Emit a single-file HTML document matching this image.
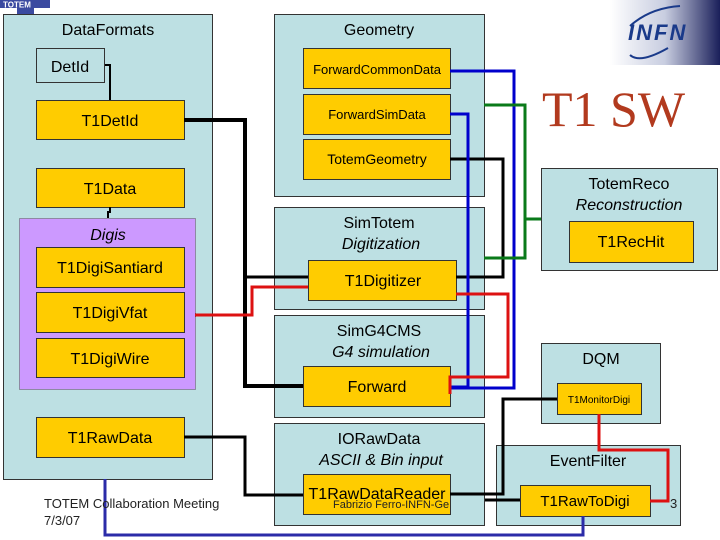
<!DOCTYPE html>
<html><head><meta charset="utf-8"><style>
html,body{margin:0;padding:0;background:#fff;}
svg{display:block;font-family:"Liberation Sans",sans-serif;}
</style></head><body>
<svg width="720" height="540" viewBox="0 0 720 540" xmlns="http://www.w3.org/2000/svg">
<defs>
<linearGradient id="g" x1="0" x2="1"><stop offset="0" stop-color="#fff"/><stop offset="0.5" stop-color="#c8cde0"/><stop offset="1" stop-color="#1a1f5a"/></linearGradient>
</defs>
<rect x="610" y="0" width="110" height="65" fill="url(#g)"/>
<text x="628" y="40" font-size="22" font-weight="bold" font-style="italic" fill="#1a3a8a" letter-spacing="2">INFN</text>
<path d="M630 26 Q650 8 680 6" stroke="#1a3a8a" stroke-width="2" fill="none"/>
<path d="M668 48 Q640 64 630 55" stroke="#1a3a8a" stroke-width="2" fill="none"/>
<rect x="0" y="0" width="50" height="8" fill="#3b4aa0"/>
<rect x="17" y="8" width="17" height="6" fill="#3b4aa0"/>
<text x="3" y="7.5" font-size="8" font-weight="bold" fill="#fff">TOTEM</text>

<g fill="#bde0e3" stroke="#333" stroke-width="1">
<rect x="3.5" y="14.5" width="209" height="465"/>
<rect x="274.5" y="14.5" width="210" height="182"/>
<rect x="274.5" y="207.5" width="210" height="102"/>
<rect x="274.5" y="315.5" width="210" height="102"/>
<rect x="274.5" y="423.5" width="210" height="102"/>
<rect x="541.5" y="168.5" width="176" height="102"/>
<rect x="541.5" y="343.5" width="119" height="80"/>
<rect x="496.5" y="445.5" width="184" height="80"/>
</g>
<rect x="19.5" y="218.5" width="176" height="171" fill="#cc99ff" stroke="#555" stroke-dasharray="1,1"/>
<rect x="36.5" y="48.5" width="68" height="34" fill="#bde0e3" stroke="#333"/>
<g fill="#ffcc00" stroke="#333">
<rect x="36.5" y="100.5" width="148" height="39"/>
<rect x="36.5" y="168.5" width="148" height="39"/>
<rect x="36.5" y="247.5" width="148" height="40"/>
<rect x="36.5" y="292.5" width="148" height="40"/>
<rect x="36.5" y="338.5" width="148" height="39"/>
<rect x="36.5" y="417.5" width="148" height="40"/>
<rect x="303.5" y="48.5" width="147" height="40"/>
<rect x="303.5" y="94.5" width="147" height="40"/>
<rect x="303.5" y="139.5" width="147" height="40"/>
<rect x="308.5" y="260.5" width="148" height="40"/>
<rect x="303.5" y="366.5" width="147" height="40"/>
<rect x="303.5" y="474.5" width="147" height="40"/>
<rect x="569.5" y="221.5" width="124" height="41"/>
<rect x="557.5" y="383.5" width="84" height="31"/>
<rect x="520.5" y="485.5" width="130" height="31"/>
</g>

<g fill="none" stroke-width="3" stroke-linejoin="miter">
<polyline stroke="#000" stroke-width="4" points="184,120 245,120 245,386 303,386"/>
<polyline stroke="#000" points="245,277 308,277"/>
<polyline stroke="#000" stroke-width="2" points="105,65 110,65 110,100"/>
<polyline stroke="#000" stroke-width="2" points="110,207 110,212 108,212 108,218"/>
<polyline stroke="#000" points="450,159 503,159 503,277 456,277"/>
<polyline stroke="#0000cc" points="450,71 514,71 514,388 450,388"/>
<polyline stroke="#0000cc" points="450,114 468,114 468,387 450,387"/>
<polyline stroke="#0a7a1a" points="484,105 525,105 525,258 484,258"/>
<polyline stroke="#0a7a1a" points="525,219 541,219"/>
<polyline stroke="#dd1111" points="456,294 508,294 508,377 450,377 450,394"/>
<polyline stroke="#dd1111" points="195,315 252,315 252,287 308,287"/>
<polyline stroke="#000" points="184,437 245,437 245,495 303,495"/>
<polyline stroke="#000" points="450,494 503,494 503,399 557,399"/>
<polyline stroke="#000" points="485,500 520,500"/>
<polyline stroke="#2b2ba8" points="105,479 105,535 583,535 583,516"/>
<polyline stroke="#dd1111" points="599,414 599,450 668,450 668,501 650,501"/>
</g>

<g fill="#000" font-size="16" text-anchor="middle">
<text x="108" y="35">DataFormats</text>
<text x="70" y="72">DetId</text>
<text x="110" y="126">T1DetId</text>
<text x="110" y="194">T1Data</text>
<text x="108" y="240" font-style="italic">Digis</text>
<text x="110" y="273">T1DigiSantiard</text>
<text x="110" y="318">T1DigiVfat</text>
<text x="110" y="364">T1DigiWire</text>
<text x="110" y="443">T1RawData</text>
<text x="379" y="35">Geometry</text>
<text x="377" y="74" font-size="13">ForwardCommonData</text>
<text x="377" y="119" font-size="13">ForwardSimData</text>
<text x="377" y="164" font-size="14">TotemGeometry</text>
<text x="379" y="228">SimTotem</text>
<text x="381" y="249" font-style="italic">Digitization</text>
<text x="383" y="286">T1Digitizer</text>
<text x="379" y="336">SimG4CMS</text>
<text x="381" y="357" font-style="italic">G4 simulation</text>
<text x="377" y="392">Forward</text>
<text x="379" y="444">IORawData</text>
<text x="381" y="465" font-style="italic">ASCII &amp; Bin input</text>
<text x="377" y="499">T1RawDataReader</text>
<text x="629" y="189">TotemReco</text>
<text x="629" y="210" font-style="italic">Reconstruction</text>
<text x="631" y="247">T1RecHit</text>
<text x="601" y="364">DQM</text>
<text x="599" y="403" font-size="10">T1MonitorDigi</text>
<text x="588" y="466">EventFilter</text>
<text x="585" y="506" font-size="15">T1RawToDigi</text>
</g>
<text x="542" y="126" font-family="Liberation Serif,serif" font-size="50" fill="#b23a1e">T1 SW</text>
<g fill="#222" font-size="13">
<text x="44" y="508">TOTEM Collaboration Meeting</text>
<text x="44" y="525">7/3/07</text>
<text x="333" y="508" font-size="11">Fabrizio Ferro-INFN-Ge</text>
<text x="670" y="508">3</text>
</g>
</svg>
</body></html>
